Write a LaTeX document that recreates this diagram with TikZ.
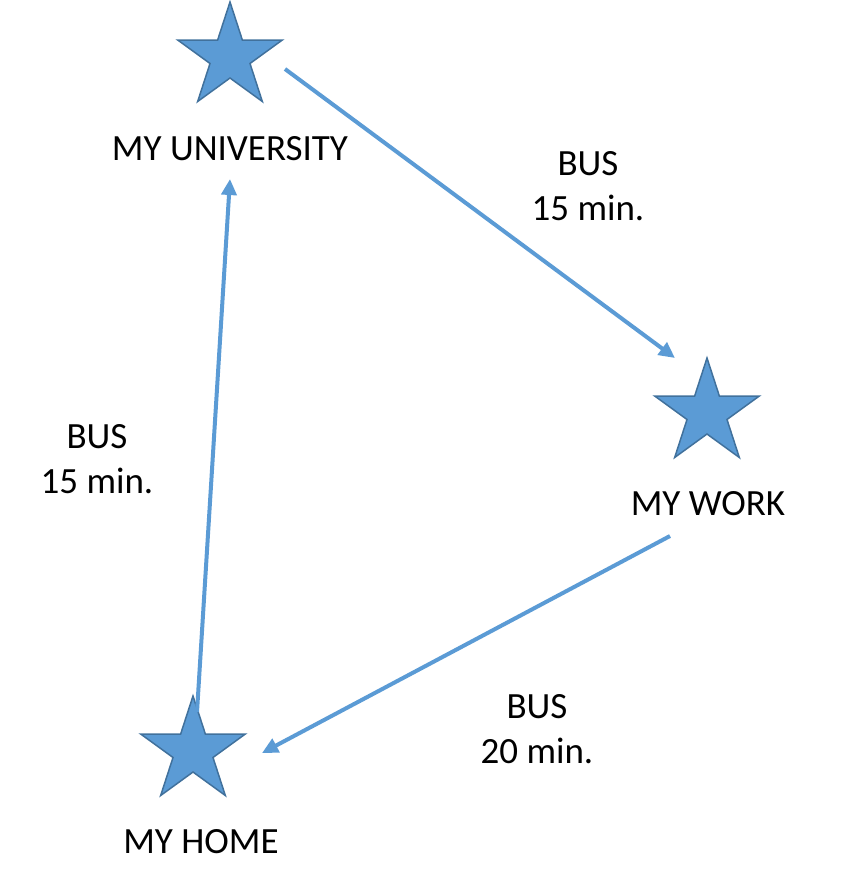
\documentclass[tikz,border=0pt]{standalone}
\usepackage{fontspec}
\setmainfont{Carlito}
\usetikzlibrary{shapes.geometric,arrows.meta}
\definecolor{starblue}{HTML}{5B9BD5}
\definecolor{stardark}{HTML}{41719C}
\begin{document}
\begin{tikzpicture}[x=1pt,y=-1pt,
  place/.style={star, star points=5, star point ratio=2.618, minimum size=110pt, inner sep=0pt, fill=starblue, draw=stardark, line width=1.5pt},
  placename/.style={anchor=base, font=\fontsize{37}{45}\selectfont},
  trip/.style={anchor=base, align=center, font=\fontsize{37}{45}\selectfont},
  route/.style={draw=starblue, line width=4pt, -{Triangle[length=16pt,width=15pt]}}]

\useasboundingbox (0,0) rectangle (859,887);

\node [place] (uni) at (230,57) {};
\node [place] (work) at (707,413) {};
\node [place] (home) at (193,751) {};

\node [placename] (uni-name) at (230,160) {MY UNIVERSITY};
\node [placename] (work-name) at (708,515) {MY WORK};
\node [placename] (home-name) at (201,853) {MY HOME};

\coordinate (uni-out) at (285,69);
\coordinate (work-in) at (675,358);
\coordinate (work-out) at (670,536);
\coordinate (home-in) at (262,753);
\coordinate (home-out) at (197,712);
\coordinate (uni-in) at (230,179);

\draw [route] (uni-out) -- (work-in);
\draw [route] (work-out) -- (home-in);
\draw [route] (home-out) -- (uni-in);

\node [trip] (trip-a) at (588,220) {BUS\\15 min.};
\node [trip] (trip-b) at (97,493) {BUS\\15 min.};
\node [trip] (trip-c) at (537,763) {BUS\\20 min.};
\end{tikzpicture}
\end{document}
